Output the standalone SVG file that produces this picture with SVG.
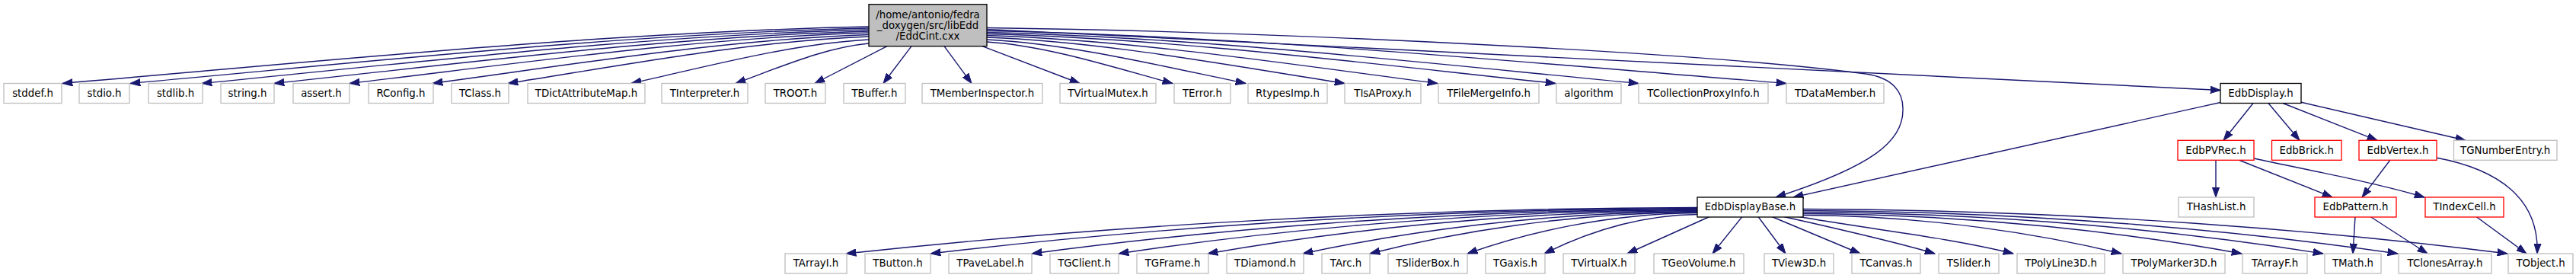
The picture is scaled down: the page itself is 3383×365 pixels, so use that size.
<svg xmlns="http://www.w3.org/2000/svg" width="3383" height="365" viewBox="0 0 3383 365">
<style>
.n rect{fill:#fff;stroke:#bfbfbf;stroke-width:1.33}
.b rect{fill:#fff;stroke:#000;stroke-width:1.33}
.r rect{fill:#fff;stroke:#ff0000;stroke-width:1.33}
.m rect{fill:#bfbfbf;stroke:#000;stroke-width:1.33}
text{font-family:"DejaVu Sans","Liberation Sans",sans-serif;font-size:13.33px;text-anchor:middle;fill:#000}
.e path{fill:none;stroke:#191970;stroke-width:1.4;marker-end:url(#a)}
</style>
<defs>
<marker id="a" markerUnits="userSpaceOnUse" markerWidth="14" markerHeight="10" viewBox="0 0 14 10" refX="13.3" refY="5" orient="auto">
<path d="M0,0.3 L13.3,5 L0,9.7 z" fill="#191970" stroke="#191970" stroke-width="1"/>
</marker>
</defs>
<rect width="3383" height="365" fill="#fff"/>
<g class="e" id="edges">
<path d="M1141,35 C791.5,42.5 431.5,79.7 82,109.5"/>
<path d="M1141,37 C821,44.3 491,80.5 171,109.5"/>
<path d="M1141,39 C852,46 554,81.3 265,109.5"/>
<path d="M1141,41 C883,47.9 617.7,82.1 360,109.5"/>
<path d="M1141,43 C916,49.7 684,82.9 459,109.5"/>
<path d="M1141,45.5 C952,51.9 757,83.9 568,109.5"/>
<path d="M1141,48 C984.6,54.2 823.4,84.9 667,109.5"/>
<path d="M1141,52 C1038,57.8 932,86.5 829,109.5"/>
<path d="M1141,57 C1083,62.3 1024,88.5 966,109.5"/>
<path d="M1165,60.7 L1070,109.5"/>
<path d="M1197,60.7 L1160,109.5"/>
<path d="M1240,60.7 L1276,109.5"/>
<path d="M1290,60.7 L1418,109.5"/>
<path d="M1296,55 C1376.5,60.5 1459.5,87.7 1540,109.5"/>
<path d="M1296,52 C1408,57.8 1524,86.5 1636,109.5"/>
<path d="M1296,49 C1451,55 1611,85.3 1766,109.5"/>
<path d="M1296,46.5 C1491,52.8 1692.6,84.3 1888,109.5"/>
<path d="M1296,44.5 C1542.5,51 1796.5,83.5 2043,109.5"/>
<path d="M1296,42.5 C1578.5,49.2 1869.5,82.7 2152,109.5"/>
<path d="M1296,40.5 C1642.5,47.4 1999.5,81.9 2346,109.5"/>
<path d="M1296,38.5 L2916,118.5"/>
<path d="M1296,36.5 C1700,42 2250,70 2450,97 C2485,102 2500,120 2499,145 C2499,185 2460,218 2332,259"/>
<path d="M2229,272.5 C1781.8,273.7 1390.5,302.75 1111,333"/>
<path d="M2229,273.5 C1826.2,274.7 1473.75,303.25 1222,333"/>
<path d="M2229,274.5 C1879.4,275.7 1573.5,303.75 1355,333"/>
<path d="M2229,275.5 C1925,276.65 1659,304.25 1469,333"/>
<path d="M2229,276.5 C1971.8,277.6 1746.75,304.75 1586,333"/>
<path d="M2229,277.5 C2021.8,278.6 1840.5,305.25 1711,333"/>
<path d="M2229,278.5 C2057,279.6 1906.5,305.75 1799,333"/>
<path d="M2229,279.5 C2108.2,280.6 2002.5,306.25 1927,333"/>
<path d="M2229,281.5 C2149.4,282.5 2079.75,307.25 2028,333"/>
<path d="M2245,284.5 L2137,333"/>
<path d="M2288,284.5 L2249,333"/>
<path d="M2309,284.5 L2345,333"/>
<path d="M2327,284.5 L2443,333"/>
<path d="M2343,284.5 C2410,300 2480,315 2541,333"/>
<path d="M2360,284 C2450,300 2560,312 2644,333"/>
<path d="M2368,282.5 C2535,283.5 2681.5,307.75 2786,333"/>
<path d="M2368,280.5 C2598.4,281.5 2800,306.75 2944,333"/>
<path d="M2368,278.5 C2641,279.6 2880,305.75 3051,333"/>
<path d="M2368,276.5 C2680.4,277.6 2953.75,304.75 3149,333"/>
<path d="M2368,274.5 C2738,275.7 3061.75,303.75 3293,333"/>
<path d="M2959,135.5 L2920,184.3"/>
<path d="M2979,135.5 L3020,184.3"/>
<path d="M2998,135.5 L3122,184.3"/>
<path d="M3021,134 L3238,184.3"/>
<path d="M2916,134.5 C2700,183 2480,230 2355,259"/>
<path d="M2910,210 L2910,259"/>
<path d="M2940,210 L3063,259"/>
<path d="M2960,208 C3040,225 3120,240 3184,259"/>
<path d="M3139,210 L3102,259"/>
<path d="M3199,207 C3280,222 3335,260 3332,333"/>
<path d="M3093,284.5 L3090,333"/>
<path d="M3113,284.5 L3188,333"/>
<path d="M3252,284.5 L3318,333"/>
</g>
<g id="main" class="m"><rect x="1141" y="5.7" width="155" height="55"/><text x="1218.5" y="23.5">/home/antonio/fedra</text><text x="1218.5" y="37.5">_doxygen/src/libEdd</text><text x="1218.5" y="51.5">/EddCint.cxx</text></g>
<g id="stddef" class="n"><rect x="5" y="109.5" width="76" height="26"/><text x="43" y="127">stddef.h</text></g>
<g id="stdio" class="n"><rect x="104" y="109.5" width="66" height="26"/><text x="137" y="127">stdio.h</text></g>
<g id="stdlib" class="n"><rect x="195" y="109.5" width="71" height="26"/><text x="230.5" y="127">stdlib.h</text></g>
<g id="string" class="n"><rect x="290" y="109.5" width="70" height="26"/><text x="325" y="127">string.h</text></g>
<g id="assert" class="n"><rect x="385" y="109.5" width="74" height="26"/><text x="422" y="127">assert.h</text></g>
<g id="RConfig" class="n"><rect x="484" y="109.5" width="85" height="26"/><text x="526.5" y="127">RConfig.h</text></g>
<g id="TClass" class="n"><rect x="593" y="109.5" width="75" height="26"/><text x="630.5" y="127">TClass.h</text></g>
<g id="TDictAttributeMap" class="n"><rect x="693" y="109.5" width="154" height="26"/><text x="770" y="127">TDictAttributeMap.h</text></g>
<g id="TInterpreter" class="n"><rect x="869" y="109.5" width="113" height="26"/><text x="925.5" y="127">TInterpreter.h</text></g>
<g id="TROOT" class="n"><rect x="1005" y="109.5" width="79" height="26"/><text x="1044.5" y="127">TROOT.h</text></g>
<g id="TBuffer" class="n"><rect x="1108" y="109.5" width="81" height="26"/><text x="1148.5" y="127">TBuffer.h</text></g>
<g id="TMemberInspector" class="n"><rect x="1211" y="109.5" width="158" height="26"/><text x="1290" y="127">TMemberInspector.h</text></g>
<g id="TVirtualMutex" class="n"><rect x="1392" y="109.5" width="126" height="26"/><text x="1455" y="127">TVirtualMutex.h</text></g>
<g id="TError" class="n"><rect x="1542" y="109.5" width="74" height="26"/><text x="1579" y="127">TError.h</text></g>
<g id="RtypesImp" class="n"><rect x="1639" y="109.5" width="104" height="26"/><text x="1691" y="127">RtypesImp.h</text></g>
<g id="TIsAProxy" class="n"><rect x="1766" y="109.5" width="100" height="26"/><text x="1816" y="127">TIsAProxy.h</text></g>
<g id="TFileMergeInfo" class="n"><rect x="1889" y="109.5" width="132" height="26"/><text x="1955" y="127">TFileMergeInfo.h</text></g>
<g id="algorithm" class="n"><rect x="2044" y="109.5" width="85" height="26"/><text x="2086.5" y="127">algorithm</text></g>
<g id="TCollectionProxyInfo" class="n"><rect x="2152" y="109.5" width="170" height="26"/><text x="2237" y="127">TCollectionProxyInfo.h</text></g>
<g id="TDataMember" class="n"><rect x="2346" y="109.5" width="128" height="26"/><text x="2410" y="127">TDataMember.h</text></g>
<g id="EdbDisplay" class="b"><rect x="2916" y="109.5" width="106" height="26"/><text x="2969" y="127">EdbDisplay.h</text></g>
<g id="EdbPVRec" class="r"><rect x="2860" y="184.3" width="100" height="26"/><text x="2910" y="201.7">EdbPVRec.h</text></g>
<g id="EdbBrick" class="r"><rect x="2983.5" y="184.3" width="91.5" height="26"/><text x="3029.2" y="201.7">EdbBrick.h</text></g>
<g id="EdbVertex" class="r"><rect x="3098" y="184.3" width="102" height="26"/><text x="3149" y="201.7">EdbVertex.h</text></g>
<g id="TGNumberEntry" class="n"><rect x="3222.5" y="184.3" width="135.5" height="26"/><text x="3290.2" y="201.7">TGNumberEntry.h</text></g>
<g id="EdbDisplayBase" class="b"><rect x="2229" y="259" width="139" height="26"/><text x="2298.5" y="276.4">EdbDisplayBase.h</text></g>
<g id="THashList" class="n"><rect x="2861" y="259" width="99" height="26"/><text x="2910.5" y="276.4">THashList.h</text></g>
<g id="EdbPattern" class="r"><rect x="3040" y="259" width="107" height="26"/><text x="3093.5" y="276.4">EdbPattern.h</text></g>
<g id="TIndexCell" class="r"><rect x="3185" y="259" width="103" height="26"/><text x="3236.5" y="276.4">TIndexCell.h</text></g>
<g id="TArrayI" class="n"><rect x="1031" y="333" width="81" height="26"/><text x="1071.5" y="350.4">TArrayI.h</text></g>
<g id="TButton" class="n"><rect x="1136" y="333" width="86" height="26"/><text x="1179" y="350.4">TButton.h</text></g>
<g id="TPaveLabel" class="n"><rect x="1246" y="333" width="109" height="26"/><text x="1300.5" y="350.4">TPaveLabel.h</text></g>
<g id="TGClient" class="n"><rect x="1379" y="333" width="90" height="26"/><text x="1424" y="350.4">TGClient.h</text></g>
<g id="TGFrame" class="n"><rect x="1493" y="333" width="94" height="26"/><text x="1540" y="350.4">TGFrame.h</text></g>
<g id="TDiamond" class="n"><rect x="1611" y="333" width="101" height="26"/><text x="1661.5" y="350.4">TDiamond.h</text></g>
<g id="TArc" class="n"><rect x="1736" y="333" width="63" height="26"/><text x="1767.5" y="350.4">TArc.h</text></g>
<g id="TSliderBox" class="n"><rect x="1823" y="333" width="104" height="26"/><text x="1875" y="350.4">TSliderBox.h</text></g>
<g id="TGaxis" class="n"><rect x="1951" y="333" width="78" height="26"/><text x="1990" y="350.4">TGaxis.h</text></g>
<g id="TVirtualX" class="n"><rect x="2053" y="333" width="94" height="26"/><text x="2100" y="350.4">TVirtualX.h</text></g>
<g id="TGeoVolume" class="n"><rect x="2172" y="333" width="118" height="26"/><text x="2231" y="350.4">TGeoVolume.h</text></g>
<g id="TView3D" class="n"><rect x="2317" y="333" width="91" height="26"/><text x="2362.5" y="350.4">TView3D.h</text></g>
<g id="TCanvas" class="n"><rect x="2432" y="333" width="90" height="26"/><text x="2477" y="350.4">TCanvas.h</text></g>
<g id="TSlider" class="n"><rect x="2546" y="333" width="79" height="26"/><text x="2585.5" y="350.4">TSlider.h</text></g>
<g id="TPolyLine3D" class="n"><rect x="2649" y="333" width="115" height="26"/><text x="2706.5" y="350.4">TPolyLine3D.h</text></g>
<g id="TPolyMarker3D" class="n"><rect x="2788" y="333" width="134" height="26"/><text x="2855" y="350.4">TPolyMarker3D.h</text></g>
<g id="TArrayF" class="n"><rect x="2945" y="333" width="85" height="26"/><text x="2987.5" y="350.4">TArrayF.h</text></g>
<g id="TMath" class="n"><rect x="3053" y="333" width="74" height="26"/><text x="3090" y="350.4">TMath.h</text></g>
<g id="TClonesArray" class="n"><rect x="3150" y="333" width="122" height="26"/><text x="3211" y="350.4">TClonesArray.h</text></g>
<g id="TObject" class="n"><rect x="3294" y="333" width="85" height="26"/><text x="3336.5" y="350.4">TObject.h</text></g>
</svg>
